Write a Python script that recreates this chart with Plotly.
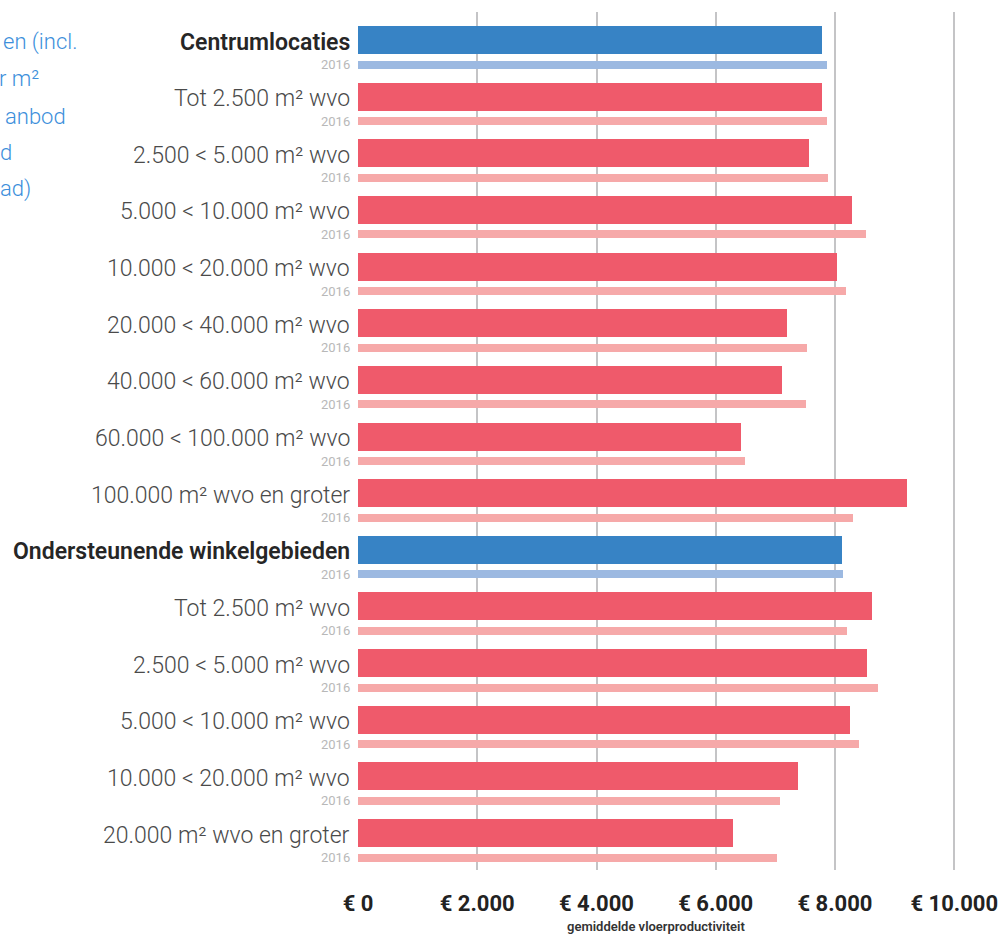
import plotly.graph_objects as go

# Categories (top to bottom); header rows are the two area totals
categories = [
    "Centrumlocaties",
    "Tot 2.500 m² wvo",
    "2.500 < 5.000 m² wvo",
    "5.000 < 10.000 m² wvo",
    "10.000 < 20.000 m² wvo",
    "20.000 < 40.000 m² wvo",
    "40.000 < 60.000 m² wvo",
    "60.000 < 100.000 m² wvo",
    "100.000 m² wvo en groter",
    "Ondersteunende winkelgebieden",
    "Tot 2.500 m² wvo",
    "2.500 < 5.000 m² wvo",
    "5.000 < 10.000 m² wvo",
    "10.000 < 20.000 m² wvo",
    "20.000 m² wvo en groter",
]
is_header = [True, False, False, False, False, False, False, False, False,
             True, False, False, False, False, False]

# Average floor productivity (€ per m²), current year and 2016
values_current = [7790, 7780, 7565, 8290, 8040, 7200, 7110, 6430, 9210,
                  8110, 8625, 8530, 8250, 7380, 6295]
values_2016 = [7865, 7870, 7875, 8525, 8190, 7530, 7520, 6495, 8295,
               8135, 8200, 8725, 8400, 7085, 7020]

x_ticks = [0, 2000, 4000, 6000, 8000, 10000]
x_tick_labels = ["€ 0", "€ 2.000", "€ 4.000", "€ 6.000", "€ 8.000", "€ 10.000"]

side_text = ["en (incl.", "r m²", "anbod", "d", "ad)"]

BLUE, BLUE_LIGHT = "#3783c5", "#9cb9e1"
RED, RED_LIGHT = "#ef5a6b", "#f6a9a9"

W, H = 998, 934
M_L, M_R, M_T, M_B = 358, 0, 12, 64
ROW = 56.64                      # pixels per category row
OFF_2016 = 24.5 / ROW            # offset of the thin 2016 bar under each row
PX_PER_EURO = 0.06

rows = list(range(len(categories)))
col_main = [BLUE if h else RED for h in is_header]
col_2016 = [BLUE_LIGHT if h else RED_LIGHT for h in is_header]

fig = go.Figure()
fig.add_trace(go.Bar(
    x=values_current, y=rows, orientation="h",
    width=28 / ROW, marker=dict(color=col_main, line=dict(width=0)),
    hoverinfo="x", showlegend=False,
))
fig.add_trace(go.Bar(
    x=values_2016, y=[r + OFF_2016 for r in rows], orientation="h",
    width=8 / ROW, marker=dict(color=col_2016, line=dict(width=0)),
    hoverinfo="x", showlegend=False,
))

annotations = []
for r, (name, hdr) in enumerate(zip(categories, is_header)):
    annotations.append(dict(
        x=0, y=r, xref="x", yref="y", xanchor="right", yanchor="middle",
        xshift=-6, yshift=-2, showarrow=False, text=name,
        font=dict(family="Roboto", size=23,
                  color="#262626" if hdr else "#4a4a4a",
                  weight=600 if hdr else 300),
    ))
    annotations.append(dict(
        x=0, y=r + OFF_2016, xref="x", yref="y", xanchor="right", yanchor="middle",
        xshift=-6, showarrow=False, text="2016",
        font=dict(family="Roboto", size=13, color="#b8b8b8"),
    ))

# Axis title under the tick labels
plot_h = H - M_T - M_B
annotations.append(dict(
    x=5000, y=-(926 - (H - M_B)) / plot_h, xref="x", yref="paper",
    xanchor="center", yanchor="middle", showarrow=False,
    text="gemiddelde vloerproductiviteit",
    font=dict(family="Roboto", size=13, color="#333333", weight=600),
))

# Text column on the far left, running up to the page edge
plot_w = W - M_L - M_R
side_right = [77, 39, 66, 12, 31]
side_y = [42, 79, 116, 152, 189]
for txt, xr, yp in zip(side_text, side_right, side_y):
    annotations.append(dict(
        x=(xr - M_L) / plot_w, y=1 - (yp - M_T) / plot_h, xref="paper", yref="paper",
        xanchor="right", yanchor="middle", showarrow=False, text=txt,
        font=dict(family="Roboto", size=22, color="#3d8fdb", weight=300),
    ))

fig.update_layout(
    width=W, height=H,
    margin=dict(l=M_L, r=M_R, t=M_T, b=M_B, pad=0),
    paper_bgcolor="white", plot_bgcolor="white",
    barmode="overlay", bargap=0,
    annotations=annotations,
    xaxis=dict(
        range=[0, (W - M_L) / PX_PER_EURO], tickvals=x_ticks, ticktext=x_tick_labels,
        showgrid=True, gridcolor="#c4c4c6", gridwidth=2,
        zeroline=False, showline=False, ticks="",
        ticklabelstandoff=18, ticklabeloverflow="allow",
        tickfont=dict(family="Roboto", size=22, color="#222222", weight="bold"),
        fixedrange=True,
    ),
    yaxis=dict(
        range=[14 + (870 - 833) / ROW, -(40 - M_T) / ROW],
        showticklabels=False, showgrid=False, zeroline=False, ticks="",
        fixedrange=True,
    ),
)

fig.write_html("out.html")
